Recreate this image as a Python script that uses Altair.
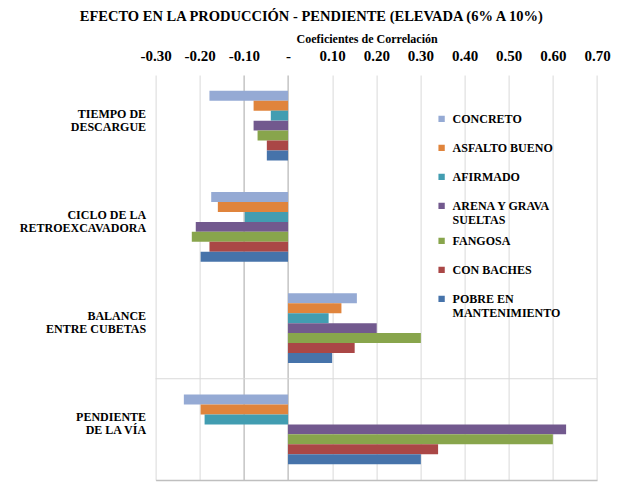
import altair as alt
import pandas as pd

categories = [
    "TIEMPO DE\nDESCARGUE",
    "CICLO DE LA\nRETROEXCAVADORA",
    "BALANCE\nENTRE CUBETAS",
    "PENDIENTE\nDE LA VÍA",
]
series = [
    "CONCRETO",
    "ASFALTO BUENO",
    "AFIRMADO",
    "ARENA Y GRAVA\nSUELTAS",
    "FANGOSA",
    "CON BACHES",
    "POBRE EN\nMANTENIMIENTO",
]
colors = ["#95AAD4", "#E0843C", "#429DB1", "#72598E", "#88A54C", "#AA4746", "#4673AA"]

concreto = [-0.178, -0.174, 0.156, -0.236]
asfalto_bueno = [-0.078, -0.159, 0.121, -0.198]
afirmado = [-0.039, -0.098, 0.092, -0.189]
arena_grava = [-0.078, -0.209, 0.201, 0.630]
fangosa = [-0.069, -0.218, 0.301, 0.600]
con_baches = [-0.048, -0.178, 0.151, 0.340]
pobre = [-0.048, -0.198, 0.100, 0.301]

tick_values = [-0.3, -0.2, -0.1, 0.0, 0.1, 0.2, 0.3, 0.4, 0.5, 0.6, 0.7]

all_series = [concreto, asfalto_bueno, afirmado, arena_grava, fangosa, con_baches, pobre]
rows = []
for s, vals in zip(series, all_series):
    for c, v in zip(categories, vals):
        rows.append({"cat": c, "series": s, "value": v})
df = pd.DataFrame(rows)

FONT = "Liberation Serif, Times New Roman, Times, serif"
W, H = 441.4, 405

xscale = alt.Scale(domain=[tick_values[0], tick_values[-1]], nice=False, zero=False)

bars = alt.Chart(df).mark_bar().encode(
    x=alt.X(
        "value:Q",
        scale=xscale,
        axis=alt.Axis(
            orient="top",
            values=tick_values,
            title="Coeficientes de Correlación",
            labelExpr="datum.value == 0 ? '-' : (datum.value < 0 ? '-' + format(-datum.value, '.2f') : format(datum.value, '.2f'))",
            labelOverlap=False,
            labelFlush=False,
            grid=True,
            gridColor={
                "condition": {
                    "test": "abs(datum.value + 0.1) < 0.001 || abs(datum.value) < 0.001",
                    "value": "#A6A6A6",
                },
                "value": "#D9D9D9",
            },
            domain=False,
            ticks=False,
            labelPadding=12,
            labelFont=FONT,
            labelFontSize=15,
            labelFontWeight="bold",
            labelColor="black",
            titleFont=FONT,
            titleFontSize=12,
            titleFontWeight="bold",
            titleColor="black",
            titlePadding=3,
            titleX=211,
        ),
    ),
    y=alt.Y(
        "cat:N",
        sort=categories,
        scale=alt.Scale(paddingInner=0.31, paddingOuter=0.155),
        axis=alt.Axis(
            title=None,
            labelExpr="split(datum.label, '\\n')",
            domain=False,
            ticks=False,
            labelPadding=10,
            labelOffset=-12,
            labelFont=FONT,
            labelFontSize=12,
            labelFontWeight="bold",
            labelColor="black",
            labelLineHeight=13,
            labelLimit=300,
        ),
    ),
    yOffset=alt.YOffset("series:N", sort=series),
    color=alt.Color(
        "series:N",
        sort=series,
        scale=alt.Scale(domain=series, range=colors),
        legend=alt.Legend(
            orient="none",
            legendX=280,
            legendY=29.5,
            title=None,
            symbolType="square",
            symbolSize=40,
            symbolStrokeWidth=0,
            labelFont=FONT,
            labelFontSize=12,
            labelFontWeight="bold",
            labelColor="black",
            labelExpr="split(datum.label, '\\n')",
            clipHeight=28.6,
            rowPadding=0,
            labelOffset=5,
            labelLimit=300,
        ),
    ),
)

sep = alt.Chart(pd.DataFrame({"cat": categories[3:]})).mark_rule(
    color="#D9D9D9", strokeWidth=1, yOffset=-15.7
).encode(
    x=alt.X(
        "x0:Q",
        scale=xscale,
        axis=alt.Axis(
            orient="bottom",
            labels=False,
            ticks=False,
            grid=False,
            domain=True,
            domainColor="#BFBFBF",
            domainWidth=1.5,
            title=None,
        ),
    ),
    x2="x1:Q",
    y=alt.Y("cat:N", sort=categories, bandPosition=0),
).transform_calculate(x0=str(tick_values[0]), x1=str(tick_values[-1]))

chart = (
    alt.layer(bars, sep)
    .resolve_axis(x="independent")
    .properties(
        width=W,
        height=H,
        title=alt.TitleParams(
            "EFECTO EN LA PRODUCCIÓN - PENDIENTE (ELEVADA (6% A 10%)",
            font=FONT,
            fontSize=14.5,
            fontWeight="bold",
            color="black",
            anchor="middle",
            dx=-65,
            dy=-4,
            offset=4,
        ),
        autosize=alt.AutoSizeParams(type="none"),
        padding={"left": 147.6, "top": 67, "right": 20, "bottom": 10},
    )
    .configure_view(stroke=None)
)

chart.save("out.html", embed_options={"renderer": "svg", "actions": False})
